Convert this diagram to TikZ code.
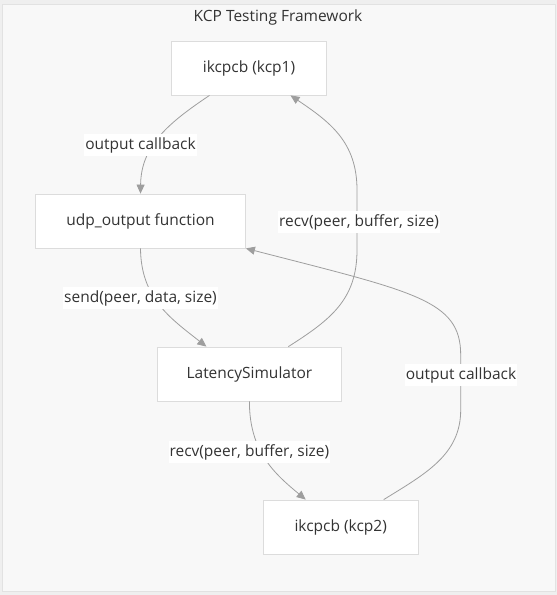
\documentclass[tikz,border=0pt]{standalone}
\usepackage{fontspec}
\setmainfont{Open Sans}
\usetikzlibrary{arrows.meta}
\definecolor{outerbg}{HTML}{EFEFEF}
\definecolor{framebg}{HTML}{F8F8F8}
\definecolor{framebd}{HTML}{E2E2E2}
\definecolor{boxbd}{HTML}{DCDCDC}
\definecolor{edgec}{HTML}{9E9E9E}
\definecolor{txt}{HTML}{333333}
\tikzset{
  box/.style={draw=boxbd, fill=white, line width=0.8pt, minimum height=54pt, inner sep=0pt, text=txt, font=\fontsize{15.5}{17}\selectfont},
  lbl/.style={fill=white, inner xsep=1pt, inner ysep=0pt, minimum height=22pt, text=txt, font=\fontsize{15.5}{17}\selectfont},
  edge/.style={draw=edgec, line width=0.8pt, -{Triangle[length=9pt,width=8pt]}},
}
\begin{document}
\begin{tikzpicture}[x=1pt,y=-1pt]
\useasboundingbox (0,0) rectangle (557,595);
\fill[outerbg] (0,0) rectangle (557,595);
\draw[framebd, fill=framebg, line width=0.8pt] (2,4) rectangle (555,591);
\node[text=txt, font=\fontsize{15.5}{17}\selectfont] (title) at (278,17) {KCP Testing Framework};

\node[box, minimum width=155pt] (kcp1) at (249,68) {ikcpcb (kcp1)};
\node[box, minimum width=210pt] (udp) at (140.5,221) {udp\_output function};
\node[box, minimum width=184pt] (lat) at (249.4,374) {LatencySimulator};
\node[box, minimum width=155pt] (kcp2) at (340.7,527) {ikcpcb (kcp2)};

\coordinate (k1s) at ([xshift=-39.5pt]kcp1.south);
\coordinate (k1e) at ([xshift=41.5pt]kcp1.south);
\coordinate (latl) at ([xshift=-43pt]lat.north);
\coordinate (latr) at ([xshift=39pt]lat.north);
\coordinate (k2l) at ([xshift=-35pt]kcp2.north);
\coordinate (k2r) at ([xshift=43pt]kcp2.north);
\coordinate (udpr) at (udp.south east);

% kcp1 -> udp
\draw[edge] (k1s) .. controls (170,122) and (141,145) .. (udp.north);
% udp -> lat
\draw[edge] (udp.south) .. controls (141,298) and (170,318) .. (latl);
% lat -> kcp1
\draw[edge] (latr) .. controls (330,320) and (357,300) .. (357,250) -- (357,190) .. controls (357,142) and (330,122) .. (k1e);
% lat -> kcp2
\draw[edge] (lat.south) .. controls (249.4,452) and (275,474) .. (k2l);
% kcp2 -> udp
\draw[edge] (k2r) .. controls (425,474) and (460.7,455) .. (460.7,410) -- (460.7,355) .. controls (460.7,300) and (415,292) .. (udpr);

\node[lbl] (l1) at (140.5,145) {output callback};
\node[lbl] (l2) at (140.5,298) {send(peer, data, size)};
\node[lbl] (l3) at (359,222) {recv(peer, buffer, size)};
\node[lbl] (l4) at (249.4,452) {recv(peer, buffer, size)};
\node[lbl] (l5) at (461,375) {output callback};
\end{tikzpicture}
\end{document}
